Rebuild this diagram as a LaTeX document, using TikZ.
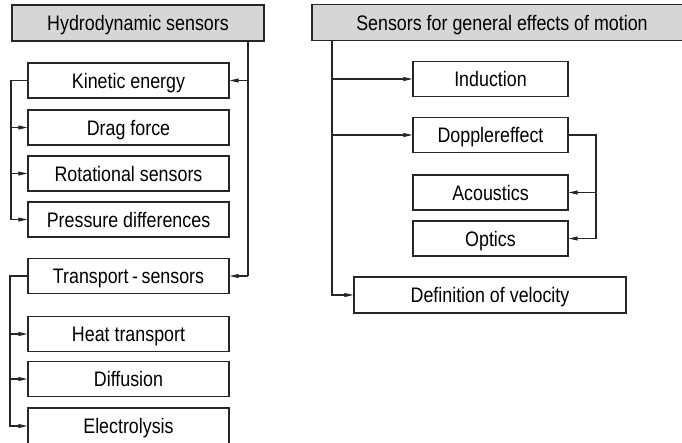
\documentclass[tikz,border=0pt]{standalone}
\usepackage{fontspec}
\setmainfont{Liberation Sans}[FakeStretch=0.85]
\usetikzlibrary{arrows.meta}

\begin{document}
\begin{tikzpicture}[x=1pt,y=-1pt,
  every node/.style={font=\fontsize{21}{24}\selectfont, inner sep=0pt,
    text height=15pt, text depth=0pt},
  box/.style={draw=black!85, line width=1.4pt, fill=white,
    minimum width=201pt, minimum height=35pt},
  head/.style={draw=black!85, line width=1.8pt, fill=gray!32,
    minimum height=36pt},
  link/.style={draw=black!85, line width=1.1pt},
  arr/.style={link, -{Triangle[length=9pt,width=4pt]}}
]
\useasboundingbox (0,0) rectangle (682,442);
\clip (0,0) rectangle (682,442);

% --- left column: hydrodynamic sensors ---
\node[head, minimum width=252pt] (hl) at (138,23) {Hydrodynamic sensors};
\node[box] (ke)  at (128.5,80.5)  {Kinetic energy};
\node[box] (df)  at (128.5,127.5) {Drag force};
\node[box] (rs)  at (128.5,173.5) {Rotational sensors};
\node[box] (pd)  at (128.5,219.5) {Pressure differences};
\node[box] (ts)  at (128.5,276)   {Transport\,-\,sensors};
\node[box] (ht)  at (128.5,334)   {Heat transport};
\node[box] (dif) at (128.5,379)   {Diffusion};
\node[box, minimum height=36pt] (el) at (128.5,426) {Electrolysis};

\coordinate (busL) at (248,0);
\coordinate (kbus) at (11,0);
\coordinate (tbus) at (10,0);

\draw[link] (hl.south -| busL) -- (ts.east -| busL);
\draw[arr] (ke.east -| busL) -- (ke.east);
\draw[arr] (ts.east -| busL) -- (ts.east);

\draw[arr] (ke.west) -- (ke.west -| kbus) -- (pd.west -| kbus) -- (pd.west);
\draw[arr] (df.west -| kbus) -- (df.west);
\draw[arr] (rs.west -| kbus) -- (rs.west);

\draw[arr] (ts.west) -- (ts.west -| tbus) -- (el.west -| tbus) -- (el.west);
\draw[arr] (ht.west -| tbus) -- (ht.west);
\draw[arr] (dif.west -| tbus) -- (dif.west);

% --- right column: general effects of motion ---
\node[head, minimum width=380pt] (hr) at (502,22.5) {Sensors for general effects of motion};
\node[box, minimum width=155pt] (ind) at (490.5,79)    {Induction};
\node[box, minimum width=155pt] (dop) at (490.5,135)   {Dopplereffect};
\node[box, minimum width=155pt] (ac)  at (490.5,192.5) {Acoustics};
\node[box, minimum width=155pt] (op)  at (490.5,238.5) {Optics};
\node[box, minimum width=272pt, minimum height=36pt] (dv) at (490,295) {Definition of velocity};

\coordinate (busR) at (332,0);
\coordinate (dbus) at (596,0);

\draw[arr] (hr.south -| busR) -- (dv.west -| busR) -- (dv.west);
\draw[arr] (ind.west -| busR) -- (ind.west);
\draw[arr] (dop.west -| busR) -- (dop.west);

\draw[arr] (dop.east) -- (dop.east -| dbus) -- (op.east -| dbus) -- (op.east);
\draw[arr] (ac.east -| dbus) -- (ac.east);
\end{tikzpicture}
\end{document}
